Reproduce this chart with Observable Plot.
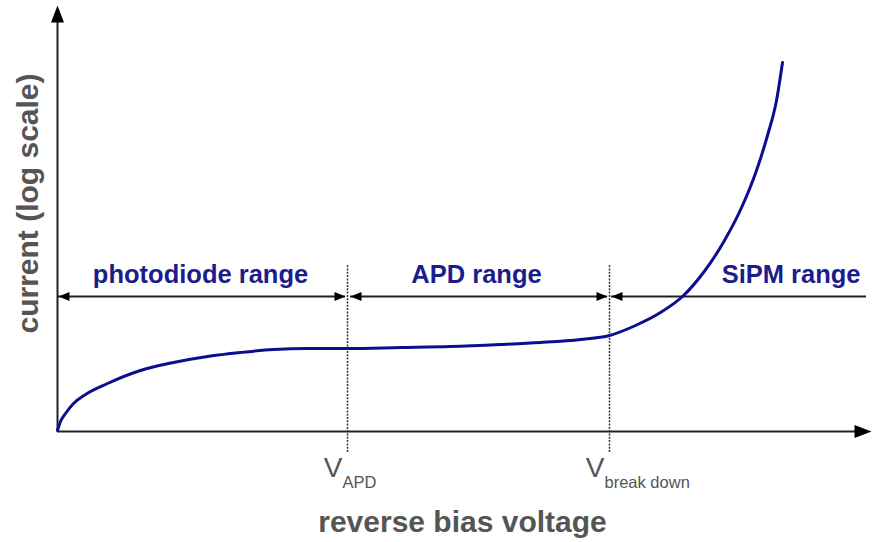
<!DOCTYPE html>
<html><head><meta charset="utf-8">
<script src="https://cdn.jsdelivr.net/npm/d3@7"></script>
<script src="https://cdn.jsdelivr.net/npm/@observablehq/plot@0.6"></script>
<style>body{margin:0;background:#fff}</style>
</head><body><div id="chart"></div>
<script>
// Voltage (arbitrary units) and current (arbitrary log-scale units)
const voltage = [0,3,8,16,28,50,83,116,150,183,216,250,290,343,393,443,483,523,552,578,603,625,646,667,685,699,710,719,725];
const current = [1,10,18,28,37,48,61,69,75,79,82,83,83,84,85,87,89,92,96,106,119,135,159,191,226,261,296,331,369];
const vAPD = 290;
const vBreak = 552;
const vMax = 814;
const iMax = 426;
const rangeLevel = 135;
const rangeLabels = ["photodiode range", "APD range", "SiPM range"];
const tickSubs = ["APD", "break down"];
const xLabel = "reverse bias voltage";
const yLabel = "current (log scale)";

const curve = voltage.map((v, i) => ({v, c: current[i]}));

function head(L, W) {
  return {draw(ctx) { ctx.moveTo(0, 0); ctx.lineTo(W / 2, L); ctx.lineTo(-W / 2, L); ctx.closePath(); }};
}
const bigHead = head(17, 13);
const smallHead = head(11, 9);

const axisHeads = [{x: vMax, y: 0, r: 90}, {x: 0, y: iMax, r: 0}];
const rangeHeads = [
  {x: 1, y: rangeLevel, r: -90}, {x: vAPD - 2, y: rangeLevel, r: 90},
  {x: vAPD + 3, y: rangeLevel, r: -90}, {x: vBreak - 2, y: rangeLevel, r: 90},
  {x: vBreak + 2, y: rangeLevel, r: -90}
];
const rangeSegs = [
  {x1: 1, x2: vAPD - 2}, {x1: vAPD + 3, x2: vBreak - 2}, {x1: vBreak + 2, x2: vMax - 5}
];
const navy = "#1c1c8c";
const gray = "#555";

const plot = Plot.plot({
  width: 872, height: 542,
  marginLeft: 57, marginRight: 1, marginTop: 5, marginBottom: 111,
  style: {fontFamily: "'Liberation Sans', Arial, sans-serif", background: "#fff"},
  x: {domain: [0, vMax], axis: null},
  y: {domain: [0, iMax], axis: null},
  marks: [
    Plot.ruleX([vAPD, vBreak], {y1: -21, y2: 166, stroke: "#333", strokeWidth: 1.5, strokeDasharray: "2,1.3"}),
    Plot.ruleY([0], {x1: 0, x2: vMax - 10, stroke: "#222", strokeWidth: 2}),
    Plot.ruleX([0], {y1: 0, y2: iMax - 10, stroke: "#222", strokeWidth: 2}),
    Plot.dot(axisHeads, {x: "x", y: "y", rotate: "r", symbol: bigHead, fill: "#000", stroke: null, r: 5}),
    Plot.ruleY(rangeSegs, {y: rangeLevel, x1: "x1", x2: "x2", stroke: "#222", strokeWidth: 2}),
    Plot.dot(rangeHeads, {x: "x", y: "y", rotate: "r", symbol: smallHead, fill: "#000", stroke: null, r: 4}),
    Plot.line(curve, {x: "v", y: "c", curve: "monotone-x", stroke: "#0d0d8f", strokeWidth: 3}),
    Plot.text([rangeLabels[0]], {x: vAPD / 2, y: rangeLevel, dx: -2, dy: -22, lineAnchor: "middle", fontSize: 25.5, fontWeight: "bold", fill: navy}),
    Plot.text([rangeLabels[1]], {x: (vAPD + vBreak) / 2, y: rangeLevel, dx: -2, dy: -22, lineAnchor: "middle", fontSize: 25.5, fontWeight: "bold", fill: navy}),
    Plot.text([rangeLabels[2]], {x: vMax, y: rangeLevel, dx: -11, dy: -22, lineAnchor: "middle", textAnchor: "end", fontSize: 25.5, fontWeight: "bold", fill: navy}),
    Plot.text(["V", "V"], {x: [vAPD, vBreak], frameAnchor: "bottom", lineAnchor: "middle", dx: -5, dy: 37, textAnchor: "end", fontSize: 28, fill: gray}),
    Plot.text(tickSubs, {x: [vAPD, vBreak], frameAnchor: "bottom", lineAnchor: "middle", dx: -5, dy: 51.5, textAnchor: "start", fontSize: 16.5, fill: gray}),
    Plot.text([xLabel], {frameAnchor: "bottom", lineAnchor: "middle", textAnchor: "middle", dx: -2, dy: 91, fontSize: 30, fontWeight: "bold", fill: gray}),
    Plot.text([yLabel], {frameAnchor: "left", lineAnchor: "middle", textAnchor: "middle", dx: -29, dy: -15, rotate: -90, fontSize: 30, fontWeight: "bold", fill: gray})
  ]
});
document.getElementById("chart").appendChild(plot);
</script>
</body></html>
